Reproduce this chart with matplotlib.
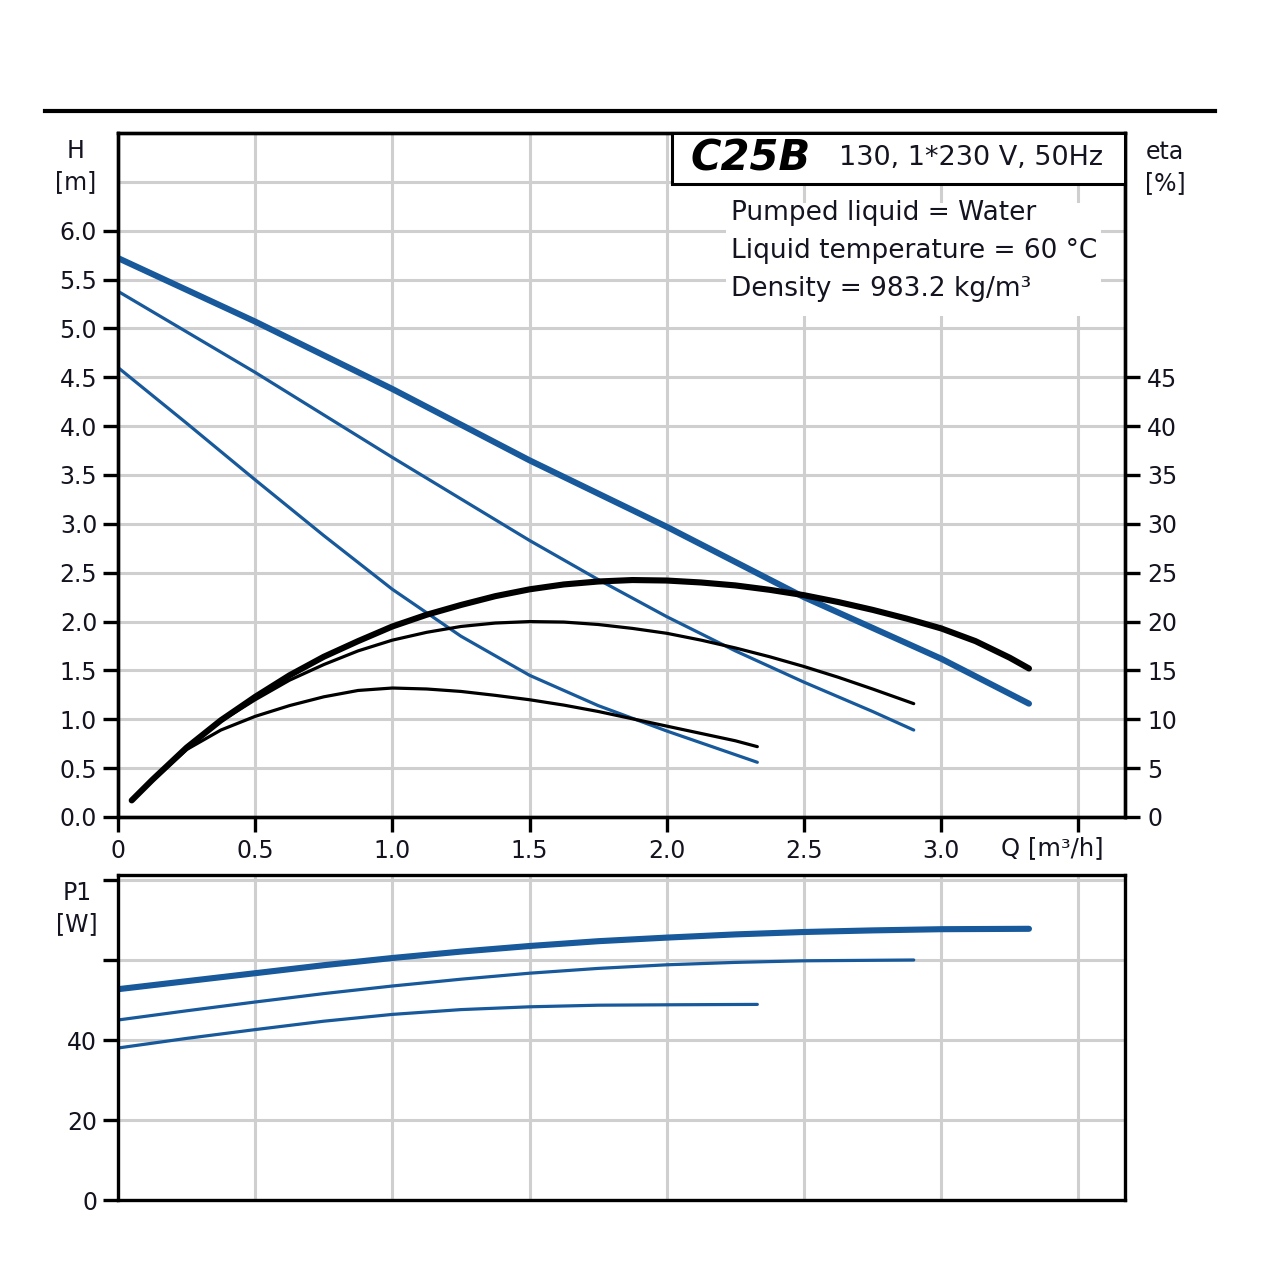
import matplotlib
matplotlib.use("Agg")
import matplotlib.pyplot as plt
from matplotlib.patches import Rectangle
from matplotlib.lines import Line2D

plt.rcParams['font.family'] = ['DejaVu Sans']

# ---------------- data ----------------
# Head curves H [m] vs Q [m3/h]
q_h_max = [0, 0.5, 1.0, 1.5, 2.0, 2.5, 3.0, 3.32]
h_max = [5.72, 5.07, 4.38, 3.65, 2.97, 2.25, 1.62, 1.16]
q_h_mid = [0, 0.5, 1.0, 1.5, 1.75, 2.0, 2.25, 2.5, 2.75, 2.9]
h_mid = [5.38, 4.55, 3.68, 2.83, 2.43, 2.05, 1.70, 1.38, 1.08, 0.89]
q_h_min = [0, 0.25, 0.5, 0.75, 1.0, 1.25, 1.5, 1.75, 2.0, 2.33]
h_min = [4.60, 4.03, 3.45, 2.88, 2.33, 1.85, 1.45, 1.14, 0.88, 0.56]

# Efficiency curves eta [%]
q_e_max = [0.05, 0.125, 0.25, 0.375, 0.5, 0.625, 0.75, 0.875, 1.0, 1.125, 1.25, 1.375,
           1.5, 1.625, 1.75, 1.875, 2.0, 2.125, 2.25, 2.375, 2.5, 2.625, 2.75, 2.875,
           3.0, 3.125, 3.25, 3.32]
e_max = [1.7, 3.8, 7.1, 9.9, 12.3, 14.5, 16.4, 18.0, 19.5, 20.7, 21.7, 22.6,
         23.3, 23.8, 24.1, 24.25, 24.2, 24.0, 23.7, 23.25, 22.7, 22.0, 21.2, 20.3,
         19.3, 18.0, 16.3, 15.2]
q_e_mid = [0.05, 0.125, 0.25, 0.375, 0.5, 0.625, 0.75, 0.875, 1.0, 1.125, 1.25, 1.375,
           1.5, 1.625, 1.75, 1.875, 2.0, 2.125, 2.25, 2.375, 2.5, 2.625, 2.75, 2.9]
e_mid = [1.7, 3.8, 7.1, 9.8, 12.0, 14.0, 15.6, 17.0, 18.1, 18.9, 19.5, 19.85,
         20.0, 19.95, 19.7, 19.3, 18.8, 18.1, 17.3, 16.4, 15.4, 14.3, 13.1, 11.6]
q_e_min = [0.05, 0.125, 0.25, 0.375, 0.5, 0.625, 0.75, 0.875, 1.0, 1.125, 1.25, 1.375,
           1.5, 1.625, 1.75, 1.875, 2.0, 2.125, 2.25, 2.33]
e_min = [1.7, 3.7, 6.9, 8.9, 10.3, 11.4, 12.3, 12.95, 13.2, 13.1, 12.85, 12.45,
         12.0, 11.45, 10.8, 10.05, 9.3, 8.55, 7.8, 7.2]

# Power curves P1 [W]
q_p_max = [0, 0.25, 0.5, 0.75, 1.0, 1.25, 1.5, 1.75, 2.0, 2.25, 2.5, 2.75, 3.0, 3.32]
p_max = [52.7, 54.7, 56.7, 58.7, 60.5, 62.1, 63.5, 64.7, 65.6, 66.4, 67.0, 67.4, 67.7, 67.8]
q_p_mid = [0, 0.25, 0.5, 0.75, 1.0, 1.25, 1.5, 1.75, 2.0, 2.25, 2.5, 2.9]
p_mid = [45.0, 47.3, 49.5, 51.6, 53.5, 55.2, 56.7, 57.9, 58.8, 59.4, 59.8, 60.0]
q_p_min = [0, 0.25, 0.5, 0.75, 1.0, 1.25, 1.5, 1.75, 2.0, 2.33]
p_min = [38.0, 40.4, 42.6, 44.7, 46.4, 47.6, 48.3, 48.7, 48.8, 48.9]

q_ticks = [0, 0.5, 1.0, 1.5, 2.0, 2.5, 3.0, 3.5]
q_labels = ['0', '0.5', '1.0', '1.5', '2.0', '2.5', '3.0', '']
h_ticks = [0.0, 0.5, 1.0, 1.5, 2.0, 2.5, 3.0, 3.5, 4.0, 4.5, 5.0, 5.5, 6.0]
eta_ticks = [0, 5, 10, 15, 20, 25, 30, 35, 40, 45]
p_ticks = [0, 20, 40, 60, 80]
p_labels = ['0', '20', '40', '', '']

title_model = "C25B"
title_spec = "130, 1*230 V, 50Hz"
info_lines = ["Pumped liquid = Water", "Liquid temperature = 60 °C", "Density = 983.2 kg/m³"]

# ---------------- style ----------------
BLUE = '#17599b'
GRID = '#cfcfcf'
TXT = '#141420'
FS = 17
W = 1280.0

fig = plt.figure(figsize=(12.8, 12.8), dpi=100)
fig.patch.set_facecolor('white')

def fx(px):
    return px / W

def fy(py):
    return 1 - py / W

ax = fig.add_axes([fx(118), fy(817), fx(1125) - fx(118), fy(133) - fy(817)])
axp = fig.add_axes([fx(118), fy(1200), fx(1125) - fx(118), fy(875) - fy(1200)])

for a in (ax, axp):
    a.set_xlim(0, 3.67)
    for s in a.spines.values():
        s.set_linewidth(2.4)
        s.set_color('black')
    a.set_axisbelow(True)

# main axes
ax.set_ylim(0, 7.0)
ax.set_xticks(q_ticks)
ax.set_xticklabels(q_labels)
ax.set_yticks(h_ticks)
ax.set_yticklabels([f"{v:.1f}" for v in h_ticks])
ax.set_yticks([6.5], minor=True)
ax.tick_params(axis='y', which='minor', length=0)
ax.grid(True, which='both', color=GRID, linewidth=2.2)
ax.tick_params(axis='both', which='major', direction='out', length=11, width=2.4,
               labelsize=FS, colors='black', labelcolor=TXT, pad=4)
ax.tick_params(axis='x', pad=5)

# eta axis on the right (same scale: 10 % per 1 m)
ax2 = ax.twinx()
ax2.set_ylim(0, 70)
ax2.set_yticks(eta_ticks)
ax2.set_yticklabels([str(v) for v in eta_ticks])
ax2.tick_params(axis='y', direction='out', length=11, width=2.4, labelsize=FS,
                labelcolor=TXT, pad=5)
for s in ax2.spines.values():
    s.set_linewidth(2.4)

# curves
ax.plot(q_h_max, h_max, color=BLUE, lw=4.4, solid_capstyle='round', zorder=4)
ax.plot(q_h_mid, h_mid, color=BLUE, lw=2.3, solid_capstyle='round', zorder=4)
ax.plot(q_h_min, h_min, color=BLUE, lw=2.3, solid_capstyle='round', zorder=4)
ax2.plot(q_e_max, e_max, color='black', lw=4.4, solid_capstyle='round', zorder=5)
ax2.plot(q_e_mid, e_mid, color='black', lw=2.3, solid_capstyle='round', zorder=5)
ax2.plot(q_e_min, e_min, color='black', lw=2.3, solid_capstyle='round', zorder=5)

# title box and info
ax2.add_patch(Rectangle((0.550, 0.9254), 0.45, 0.0746, transform=ax.transAxes,
                        facecolor='white', edgecolor='black', lw=2.2, zorder=6, clip_on=False))
ax2.add_patch(Rectangle((0.604, 0.732), 0.372, 0.166, transform=ax.transAxes,
                        facecolor='white', edgecolor='none', zorder=3))
ax2.text(0.569, 0.963, title_model, transform=ax.transAxes, fontsize=30, fontweight='bold',
         fontstyle='italic', ha='left', va='center', color='black', zorder=7)
ax2.text(0.716, 0.963, title_spec, transform=ax.transAxes, fontsize=19.5, ha='left',
         va='center', color=TXT, zorder=7)
for txt, yy in zip(info_lines, [0.883, 0.827, 0.772]):
    ax2.text(0.609, yy, txt, transform=ax.transAxes, fontsize=19, ha='left', va='center',
             color=TXT, zorder=7)

# power axes
axp.set_ylim(0, 81.25)
axp.set_xticks(q_ticks)
axp.tick_params(axis='x', length=0, labelbottom=False)
axp.set_yticks(p_ticks)
axp.set_yticklabels(p_labels)
axp.grid(True, color=GRID, linewidth=2.2)
axp.tick_params(axis='y', direction='out', length=11, width=2.4, labelsize=FS,
                labelcolor=TXT, pad=4)
axp.plot(q_p_max, p_max, color=BLUE, lw=4.4, solid_capstyle='round')
axp.plot(q_p_mid, p_mid, color=BLUE, lw=2.3, solid_capstyle='round')
axp.plot(q_p_min, p_min, color=BLUE, lw=2.3, solid_capstyle='round')

# axis captions
fig.text(fx(76), fy(151), "H", fontsize=FS, ha='center', va='center', color=TXT)
fig.text(fx(76), fy(182), "[m]", fontsize=FS, ha='center', va='center', color=TXT)
fig.text(fx(1165), fy(152), "eta", fontsize=FS, ha='center', va='center', color=TXT)
fig.text(fx(1165), fy(183), "[%]", fontsize=FS, ha='center', va='center', color=TXT)
fig.text(fx(1052), fy(848), "Q [m³/h]", fontsize=17.5, ha='center', va='center', color=TXT)
fig.text(fx(77), fy(893), "P1", fontsize=FS, ha='center', va='center', color=TXT)
fig.text(fx(77), fy(924), "[W]", fontsize=FS, ha='center', va='center', color=TXT)

# top rule
fig.add_artist(Line2D([fx(45), fx(1215)], [fy(111), fy(111)], color='black', lw=3.0))

fig.savefig("out.png", dpi=100, facecolor='white')
